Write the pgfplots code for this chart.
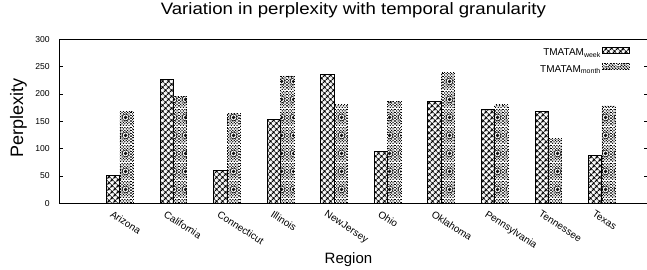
\documentclass[border=0pt]{standalone}
\usepackage{fontspec}
\setmainfont{Liberation Sans}
\newfontfamily\titlefont[FakeStretch=1.13]{Liberation Sans}
\usepackage{pgfplots}
\pgfplotsset{compat=1.18}
\usetikzlibrary{patterns.meta}

\pgfplotstableread{
x week month
0 51 168
1 227 196
2 60 165
3 153 233
4 236 180
5 95 187
6 187 240
7 171 180
8 168 118
9 88 178
}\perplexdata

\begin{document}
\pgfdeclarepattern{
  name=diacross,
  type=uncolored,
  bottom left={\pgfpoint{0pt}{0pt}},
  top right={\pgfpoint{4.6pt}{4.6pt}},
  tile size={\pgfpoint{4.6pt}{4.6pt}},
  tile transformation={\pgftransformrotate{45}},
  code={
    \pgfsetlinewidth{1.3pt}
    \pgfpathmoveto{\pgfpoint{0pt}{2.3pt}}\pgfpathlineto{\pgfpoint{4.6pt}{2.3pt}}
    \pgfpathmoveto{\pgfpoint{2.3pt}{0pt}}\pgfpathlineto{\pgfpoint{2.3pt}{4.6pt}}
    \pgfusepath{stroke}
  }
}%
\pgfdeclarepattern{
  name=dotcircle,
  type=colored,
  bottom left={\pgfpoint{0pt}{0pt}},
  top right={\pgfpoint{12pt}{18pt}},
  tile size={\pgfpoint{12pt}{18pt}},
  code={
    \pgfsetfillcolor{black}
    \foreach \i in {0,...,7}{
      \foreach \j in {0,...,11}{
        \pgfmathtruncatemacro{\s}{mod(\i+\j,2)}
        \ifnum\s=0
          \pgfpathcircle{\pgfpoint{\i*1.5pt+0.75pt}{\j*1.5pt+0.75pt}}{0.8pt}
          \pgfusepath{fill}
        \fi
      }
    }
    \pgfsetfillcolor{white}
    \pgfsetstrokecolor{black}
    \pgfsetlinewidth{0.6pt}
    \pgfpathcircle{\pgfpoint{6pt}{9pt}}{3.6pt}
    \pgfusepath{fill,stroke}
    \pgfpathcircle{\pgfpoint{6pt}{9pt}}{1.6pt}
    \pgfusepath{stroke}
    \pgfpathmoveto{\pgfpoint{6pt}{7.4pt}}\pgfpathlineto{\pgfpoint{6pt}{10.6pt}}
    \pgfpathmoveto{\pgfpoint{4.4pt}{9pt}}\pgfpathlineto{\pgfpoint{7.6pt}{9pt}}
    \pgfusepath{stroke}
  }
}%
\begin{tikzpicture}
\useasboundingbox (-59.3pt,-66.7pt) rectangle (587.7pt,203.3pt);
\begin{axis}[
  at={(0pt,0pt)}, anchor=south west,
  scale only axis, width=588.2pt, height=164pt,
  xmin=-1.132, xmax=9.85, ymin=0, ymax=300,
  ybar=0pt, bar width=0.25,
  xtick={0,...,9},
  xticklabels={Arizona,California,Connecticut,Illinois,NewJersey,Ohio,Oklahoma,Pennsylvania,Tennessee,Texas},
  major x tick style={draw=none},
  ytick={0,50,...,300},
  tick align=inside, major tick length=4pt,
  ytick pos=both,
  axis line style={line width=1pt},
  y tick style={line width=0.7pt, black},
  yticklabel style={font=\fontsize{8.6}{9}\selectfont, xshift=-6pt},
  xticklabel style={font=\fontsize{10}{11}\selectfont, inner sep=0pt, xshift=-6.5pt, yshift=-6.5pt, rotate=-33, anchor=north west},
  /pgf/number format/assume math mode=true,
  title={Variation in perplexity with temporal granularity},
  title style={font=\titlefont\fontsize{16.5}{18}\selectfont, at={(rel axis cs:0.5,1)}, anchor=base, yshift=18.6pt},
  ylabel={Perplexity},
  every axis y label/.style={font=\fontsize{18}{20}\selectfont, at={(rel axis cs:0,0.518)}, xshift=-40.9pt, anchor=center, rotate=90},
  xlabel={Region},
  xlabel style={font=\fontsize{15}{17}\selectfont, at={(rel axis cs:0.4916,0)}, yshift=-60pt, anchor=base},
  legend style={draw=none, fill=none, at={(rel axis cs:0.970,0.952)}, anchor=north east, inner sep=0pt, font=\fontsize{10}{11}\selectfont, row sep=5pt, nodes={inner sep=1pt}},
  legend cell align=right,
  legend plot pos=right,
  legend image code/.code={\draw[#1, line width=0.8pt] (5pt,-0.5pt) rectangle (32pt,5.5pt);},
]
\addplot[draw=black, line width=1pt, pattern={diacross}] table[x=x, y=week] {\perplexdata};
\addlegendentry{TMATAM\textsubscript{week}}
\addplot[draw=black, line width=0.8pt, dotted, pattern={dotcircle}] table[x=x, y=month] {\perplexdata};
\addlegendentry{TMATAM\textsubscript{month}}
\end{axis}
\end{tikzpicture}
\end{document}
